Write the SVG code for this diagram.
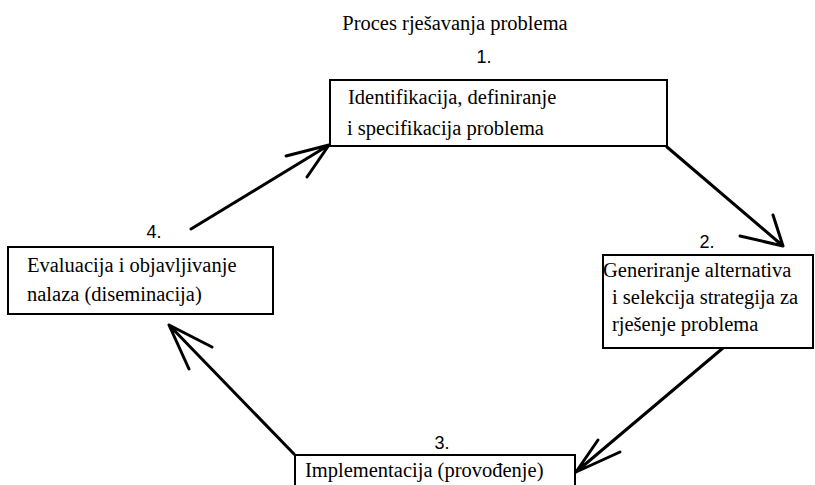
<svg xmlns="http://www.w3.org/2000/svg" width="815" height="485" viewBox="0 0 815 485">
<style>
.box{fill:#fff;stroke:#000;stroke-width:2}
.t{font-family:"Liberation Serif","Times New Roman",serif;font-size:20.5px;fill:#000}
.n{font-family:"Liberation Sans",Arial,sans-serif;font-size:18px;fill:#000;text-anchor:middle}
.c{fill:none;stroke:#000;stroke-width:3;stroke-linecap:round;stroke-linejoin:round}
</style>
<rect width="815" height="485" fill="#fff"/>
<text class="t" x="455" y="30" text-anchor="middle">Proces rješavanja problema</text>
<g id="connectors">
<path class="c" d="M667,147 L783,246 M740,236 L783,246 L773,215"/>
<path class="c" d="M723,348 L576,472 M598,440 L576,472 L620,452"/>
<path class="c" d="M294,454 L169,325 M212,347 L169,325 L189,369"/>
<path class="c" d="M191,229 L329,145 M286,156 L329,145 L307,177"/>
</g>
<g id="node1">
<rect class="box" x="330" y="80" width="337" height="66"/>
<text class="n" x="484" y="63">1.</text>
<text class="t" x="348" y="104">Identifikacija, definiranje</text>
<text class="t" x="347" y="135">i specifikacija problema</text>
</g>
<g id="node2">
<rect class="box" x="603" y="255" width="210" height="93"/>
<text class="n" x="707" y="248">2.</text>
<text class="t" x="603" y="277">Generiranje alternativa</text>
<text class="t" x="612" y="304">i selekcija strategija za</text>
<text class="t" x="612" y="331">rješenje problema</text>
</g>
<g id="node3">
<rect class="box" x="295" y="455" width="280" height="40"/>
<text class="n" x="442" y="449">3.</text>
<text class="t" x="305" y="477">Implementacija (provođenje)</text>
</g>
<g id="node4">
<rect class="box" x="8" y="247" width="265" height="67"/>
<text class="n" x="154" y="238">4.</text>
<text class="t" x="27" y="272">Evaluacija i objavljivanje</text>
<text class="t" x="27" y="301">nalaza (diseminacija)</text>
</g>
</svg>
